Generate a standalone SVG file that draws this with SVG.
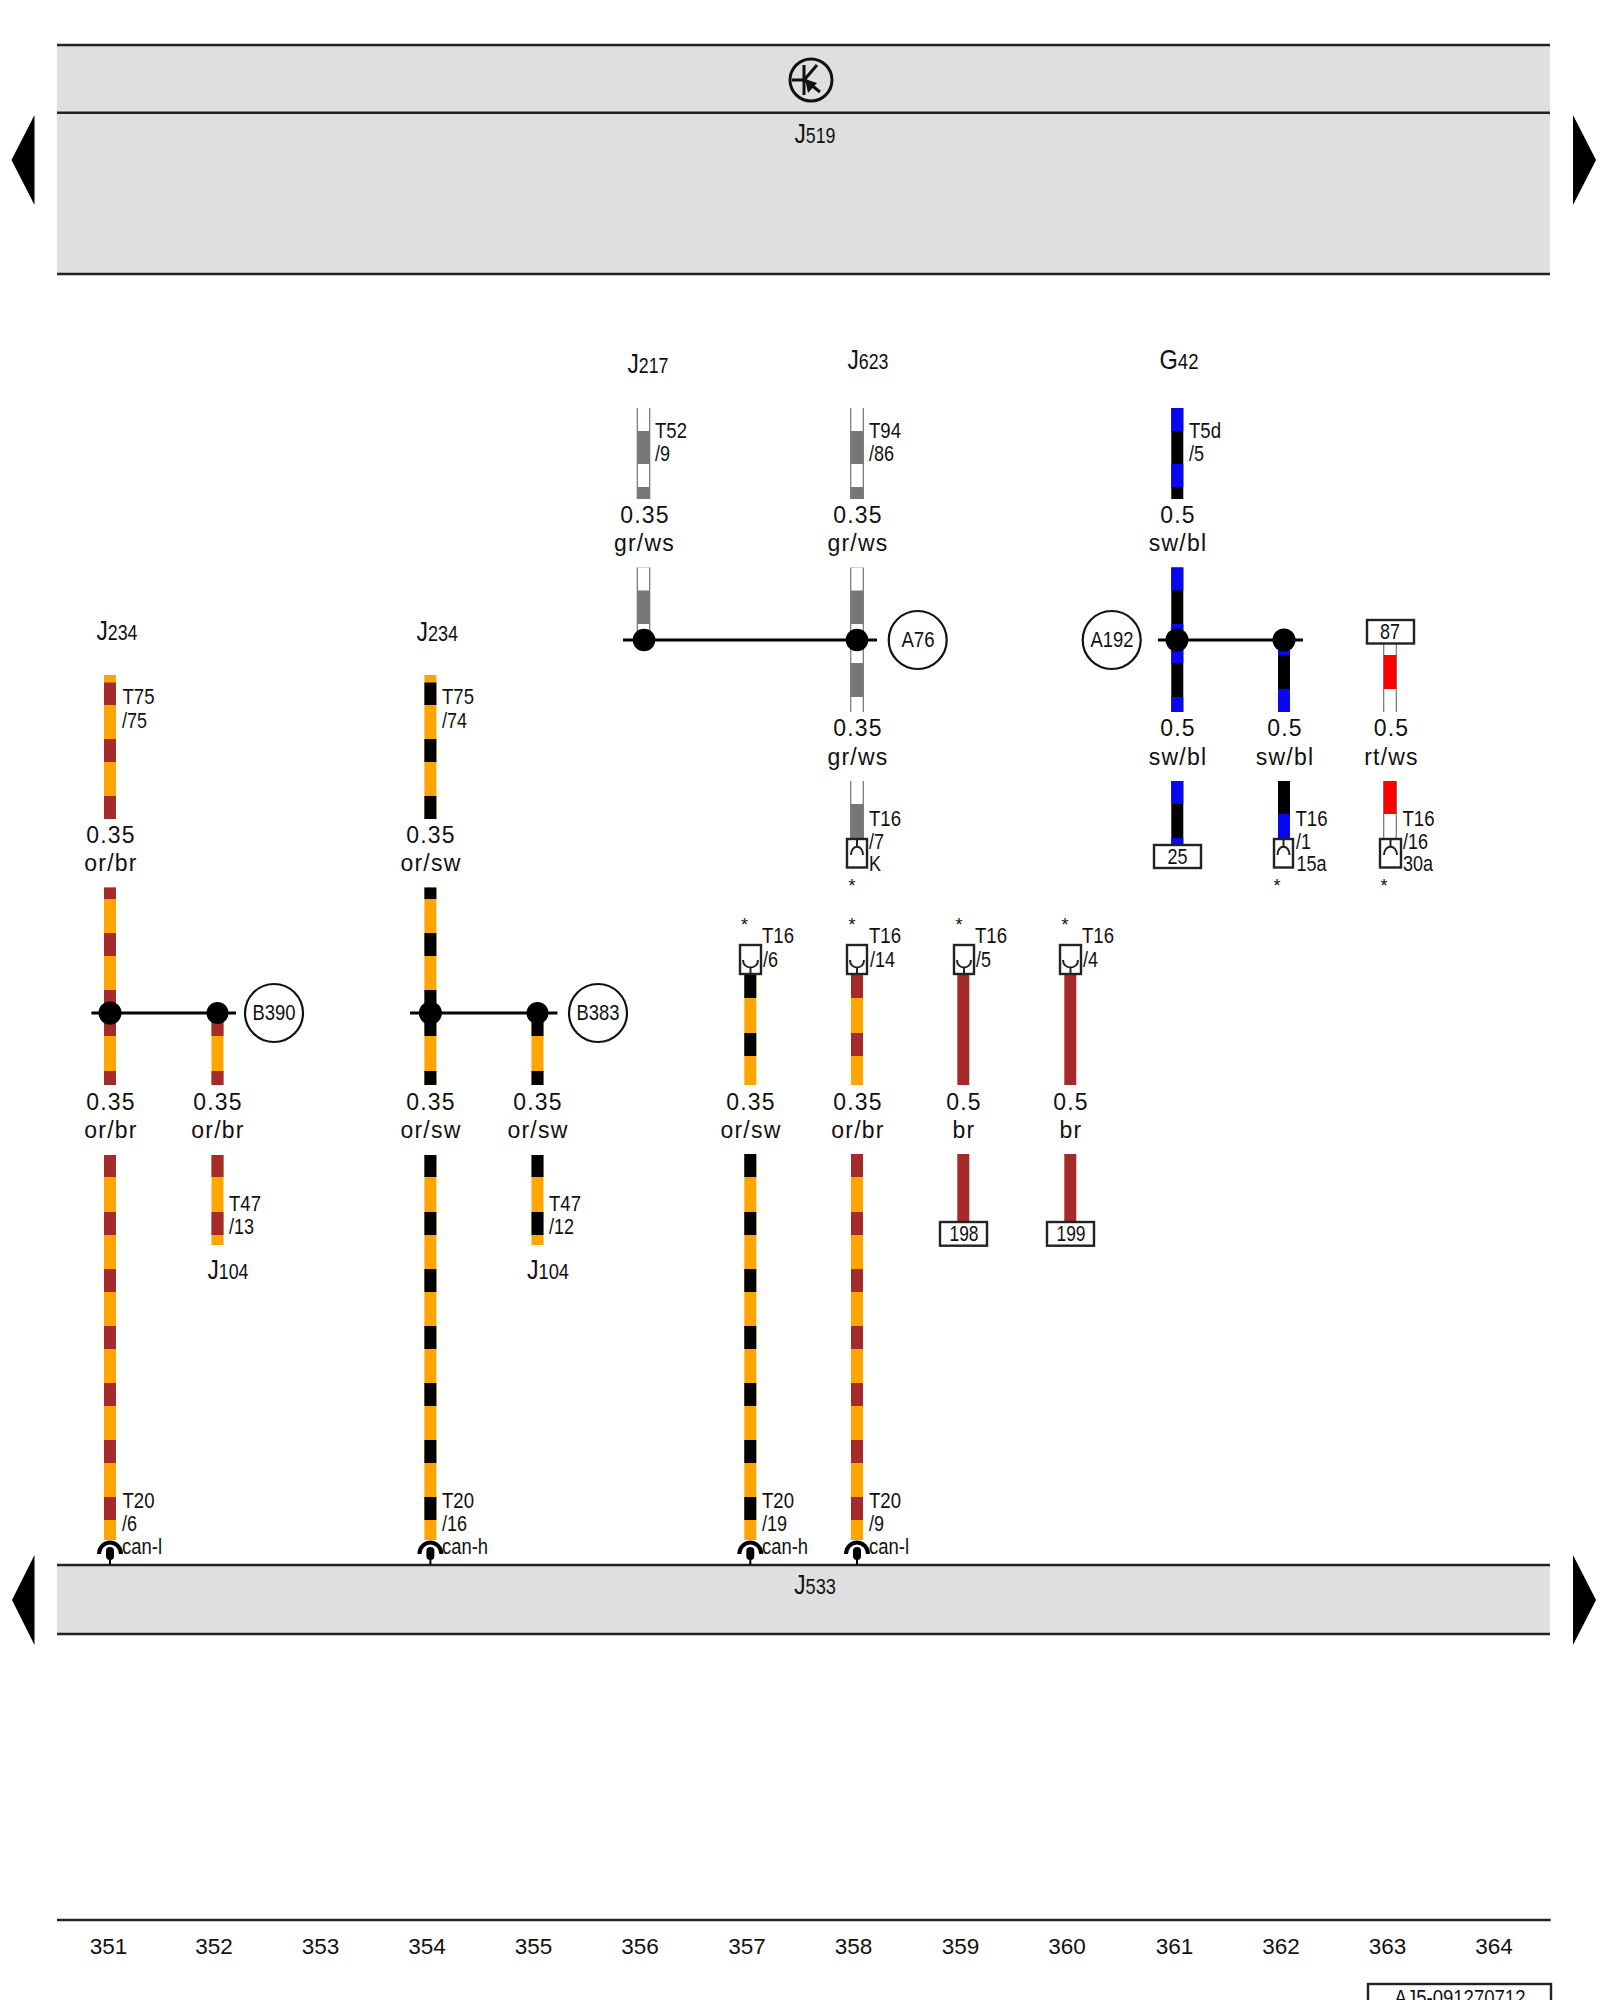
<svg xmlns="http://www.w3.org/2000/svg" width="1600" height="2000" viewBox="0 0 1600 2000">
<style>
text{font-family:"Liberation Sans",Arial,sans-serif;fill:#111}
.band{fill:#dfdfdf}
.rule{stroke:#222;stroke-width:2.5;fill:none}
.arrow{fill:#000}
.or,.brn,.blk,.blu,.red,.gry,.wht,.edge{fill:none}
.or{stroke:#ffa500;stroke-width:12}
.brn{stroke:#a52a2a;stroke-width:12}
.blk{stroke:#000;stroke-width:12}
.blu{stroke:#0808f0;stroke-width:12}
.red{stroke:#f00;stroke-width:12.5}
.gry{stroke:#777;stroke-width:12.5}
.edge{stroke:#555;stroke-width:13.5}
.wht{stroke:#fff;stroke-width:11.5}
.tie{stroke:#000;stroke-width:3;fill:none}
.dot{fill:#000}
.ring{fill:#fff;stroke:#111;stroke-width:2.2}
.box{fill:#fff;stroke:#222;stroke-width:2.4}
.pin{fill:none;stroke:#222;stroke-width:2}
.hook{fill:none;stroke:#000;stroke-width:4}
.t{font-size:22.5px}
.m{font-size:22.5px;text-anchor:middle}
.w{font-size:23px;text-anchor:middle;letter-spacing:1.2px}
.star{font-size:18px;text-anchor:middle}
.big{font-size:28px}
.sm{font-size:22px}
.n{font-size:22.5px;text-anchor:middle}
</style>

<g id="connectors">
<g id="wires-or-br">
<path class="or" d="M110 675V819M110 887.5V1085M110 1155V1540M217.5 1013V1085M217.5 1155V1245M857 975V1085M857 1154V1540"/>
<path class="brn" d="M110 682.5V705M110 739V762M110 796V819M110 887.5V899M110 933V956M110 990V1036M110 1071V1085M110 1155V1177M110 1212V1235M110 1269V1292M110 1326V1349M110 1383V1406M110 1440V1463M110 1497V1520"/>
<path class="brn" stroke-width="11" d="M217.5 1013V1036M217.5 1071V1085M217.5 1155V1177M217.5 1212V1235"/>
<path class="brn" d="M857 975V998M857 1033V1056M857 1154V1177M857 1212V1235M857 1269V1292M857 1326V1349M857 1383V1406M857 1440V1463M857 1497V1520"/>
<path class="brn" d="M963.3 975V1085M963.3 1154V1222M1070.3 975V1085M1070.3 1154V1222"/>
</g>
<g id="wires-or-sw">
<path class="or" d="M430.4 675V819M430.4 887.5V1085M430.4 1155V1540M537.5 1013V1085M537.5 1155V1245M750.3 975V1085M750.3 1154V1540"/>
<path class="blk" d="M430.4 682.5V705M430.4 739V762M430.4 796V819M430.4 887.5V899M430.4 933V956M430.4 990V1036M430.4 1071V1085M430.4 1155V1177M430.4 1212V1235M430.4 1269V1292M430.4 1326V1349M430.4 1383V1406M430.4 1440V1463M430.4 1497V1520"/>
<path class="blk" d="M537.5 1013V1036M537.5 1071V1085M537.5 1155V1177M537.5 1212V1235"/>
<path class="blk" d="M750.3 975V998M750.3 1033V1056M750.3 1154V1177M750.3 1212V1235M750.3 1269V1292M750.3 1326V1349M750.3 1383V1406M750.3 1440V1463M750.3 1497V1520"/>
</g>
<g id="wires-gr-ws">
<path class="edge" d="M643.5 408V499M643.5 567.5V640M857 408V499M857 567.5V712M857 781V839"/>
<path class="wht" d="M643.5 408V499M643.5 567.5V640M857 408V499M857 567.5V712M857 781V839"/>
<path class="gry" d="M643.5 431V464M643.5 487V499M643.5 590.5V624M857 431V464M857 487V499M857 590.5V624M857 663V697M857 804V839"/>
</g>
<g id="wires-sw-bl">
<path class="blk" d="M1177.3 408V499M1177.3 567.5V712M1177.3 781V845M1284 640V712M1284 781V839"/>
<path class="blu" d="M1177.3 408V431M1177.3 464V487M1177.3 567.5V590.5M1177.3 624V663M1177.3 697V712M1177.3 781V804M1177.3 838V845M1284 640V655M1284 689V712M1284 814V839"/>
</g>
<g id="wires-rt-ws">
<path class="edge" d="M1390 643V712M1390 781V839"/>
<path class="wht" d="M1390 643V712M1390 781V839"/>
<path class="red" d="M1390 655V689M1390 781V814"/>
</g>
<path class="tie" d="M91.4 1013H236M410 1013H557.5M623 640H877M1158 640H1303"/>
<g id="junctions">
<circle class="dot" cx="110" cy="1013" r="11.5"/><circle class="dot" cx="217.5" cy="1013" r="11"/>
<circle class="dot" cx="430.4" cy="1013" r="11.5"/><circle class="dot" cx="537.5" cy="1013" r="11"/>
<circle class="dot" cx="644" cy="640" r="11.3"/><circle class="dot" cx="857" cy="640" r="11.3"/>
<circle class="dot" cx="1177" cy="640" r="11.5"/><circle class="dot" cx="1284" cy="640" r="11.5"/>
</g>
</g>

<g id="J519">
<rect class="band" x="57" y="45" width="1493" height="229"/>
<path class="rule" d="M57 45H1550M57 112.7H1550M57 274H1550"/>
<polygon class="arrow" points="34.5,115 34.5,205 11.5,160"/>
<polygon class="arrow" points="1573,115 1573,205 1596,160"/>
<circle cx="811" cy="80" r="21" fill="none" stroke="#111" stroke-width="3"/>
<path d="M804 65V95M792 80H804M805 79L817 65M805 80L820 92" fill="none" stroke="#111" stroke-width="3"/>
<polygon points="805,79 817,83 808,93" fill="#111"/>
<text x="794.5" y="143" textLength="41" lengthAdjust="spacingAndGlyphs"><tspan class="big">J</tspan><tspan class="sm">519</tspan></text>
</g>

<g id="J533">
<rect class="band" x="57" y="1565" width="1493" height="69"/>
<path class="rule" d="M57 1565H1550M57 1634H1550"/>
<polygon class="arrow" points="34.5,1555 34.5,1645 12,1600"/>
<polygon class="arrow" points="1573,1555 1573,1645 1596,1600"/>
<text x="794" y="1594" textLength="42" lengthAdjust="spacingAndGlyphs"><tspan class="big">J</tspan><tspan class="sm">533</tspan></text>
</g>

<g id="wire-110">
<text x="96.5" y="640" textLength="41" lengthAdjust="spacingAndGlyphs"><tspan class="big">J</tspan><tspan class="sm">234</tspan></text>
<text class="t" x="122.5" y="704" textLength="32" lengthAdjust="spacingAndGlyphs">T75</text>
<text class="t" x="122" y="728" textLength="25" lengthAdjust="spacingAndGlyphs">/75</text>
<text class="w" x="111" y="843">0.35</text><text class="w" x="111" y="871.4">or/br</text>
<text class="w" x="111" y="1110">0.35</text><text class="w" x="111" y="1138">or/br</text>
<text class="t" x="122.5" y="1508" textLength="32" lengthAdjust="spacingAndGlyphs">T20</text>
<text class="t" x="122" y="1530.7" textLength="15" lengthAdjust="spacingAndGlyphs">/6</text>
<text class="t" x="122" y="1554" textLength="40" lengthAdjust="spacingAndGlyphs">can-l</text>
<path class="hook" d="M99 1554A11 11.5 0 0 1 121 1554"/>
<rect x="106" y="1547" width="8" height="13" rx="4" fill="#000"/><path d="M110 1558V1565" stroke="#000" stroke-width="2"/>
</g>
<g id="wire-217">
<circle class="ring" cx="274" cy="1013" r="29"/>
<text class="m" x="274" y="1020" textLength="43" lengthAdjust="spacingAndGlyphs">B390</text>
<text class="w" x="218" y="1110">0.35</text><text class="w" x="218" y="1138">or/br</text>
<text class="t" x="229" y="1211" textLength="32" lengthAdjust="spacingAndGlyphs">T47</text>
<text class="t" x="229" y="1234" textLength="25" lengthAdjust="spacingAndGlyphs">/13</text>
<text x="207.5" y="1279" textLength="41" lengthAdjust="spacingAndGlyphs"><tspan class="big">J</tspan><tspan class="sm">104</tspan></text>
</g>

<g id="wire-430">
<text x="416.5" y="641" textLength="41.5" lengthAdjust="spacingAndGlyphs"><tspan class="big">J</tspan><tspan class="sm">234</tspan></text>
<text class="t" x="442" y="704" textLength="32" lengthAdjust="spacingAndGlyphs">T75</text>
<text class="t" x="442" y="728" textLength="25" lengthAdjust="spacingAndGlyphs">/74</text>
<text class="w" x="431" y="843">0.35</text><text class="w" x="431" y="871.4">or/sw</text>
<text class="w" x="431" y="1110">0.35</text><text class="w" x="431" y="1138">or/sw</text>
<text class="t" x="442" y="1508" textLength="32" lengthAdjust="spacingAndGlyphs">T20</text>
<text class="t" x="442" y="1530.7" textLength="25" lengthAdjust="spacingAndGlyphs">/16</text>
<text class="t" x="442" y="1554" textLength="46" lengthAdjust="spacingAndGlyphs">can-h</text>
<path class="hook" d="M419.4 1554A11 11.5 0 0 1 441.4 1554"/>
<rect x="426.4" y="1547" width="8" height="13" rx="4" fill="#000"/><path d="M430.4 1558V1565" stroke="#000" stroke-width="2"/>
</g>
<g id="wire-537">
<circle class="ring" cx="598" cy="1013" r="29"/>
<text class="m" x="598" y="1020" textLength="43" lengthAdjust="spacingAndGlyphs">B383</text>
<text class="w" x="538" y="1110">0.35</text><text class="w" x="538" y="1138">or/sw</text>
<text class="t" x="549" y="1211" textLength="32" lengthAdjust="spacingAndGlyphs">T47</text>
<text class="t" x="549" y="1234" textLength="25" lengthAdjust="spacingAndGlyphs">/12</text>
<text x="527" y="1279" textLength="42" lengthAdjust="spacingAndGlyphs"><tspan class="big">J</tspan><tspan class="sm">104</tspan></text>
</g>

<g id="wire-644">
<text x="627.5" y="373" textLength="41" lengthAdjust="spacingAndGlyphs"><tspan class="big">J</tspan><tspan class="sm">217</tspan></text>
<text class="t" x="655" y="438" textLength="32" lengthAdjust="spacingAndGlyphs">T52</text>
<text class="t" x="655" y="461" textLength="15" lengthAdjust="spacingAndGlyphs">/9</text>
<text class="w" x="645" y="523">0.35</text><text class="w" x="644.5" y="551">gr/ws</text>
</g>

<g id="wire-857-upper">
<text x="847.5" y="369" textLength="41" lengthAdjust="spacingAndGlyphs"><tspan class="big">J</tspan><tspan class="sm">623</tspan></text>
<text class="t" x="869" y="438" textLength="32" lengthAdjust="spacingAndGlyphs">T94</text>
<text class="t" x="869" y="461" textLength="25" lengthAdjust="spacingAndGlyphs">/86</text>
<text class="w" x="858" y="523">0.35</text><text class="w" x="858" y="551">gr/ws</text>
<circle class="ring" cx="917.7" cy="640" r="29"/>
<text class="m" x="918" y="647" textLength="33" lengthAdjust="spacingAndGlyphs">A76</text>
<text class="w" x="858" y="736">0.35</text><text class="w" x="858" y="765">gr/ws</text>
<text class="t" x="869" y="826" textLength="32" lengthAdjust="spacingAndGlyphs">T16</text>
<text class="t" x="869" y="848.6" textLength="15" lengthAdjust="spacingAndGlyphs">/7</text>
<text class="t" x="869" y="871" textLength="12" lengthAdjust="spacingAndGlyphs">K</text>
<rect class="box" x="847" y="839" width="20" height="28.5"/>
<path class="pin" d="M857 839V846M851 855C851 844 863 844 863 855"/>
<text class="star" x="852" y="892">*</text>
</g>

<g id="wire-1177">
<text x="1159.5" y="369" textLength="39" lengthAdjust="spacingAndGlyphs"><tspan class="big">G</tspan><tspan class="sm">42</tspan></text>
<text class="t" x="1189" y="438" textLength="32" lengthAdjust="spacingAndGlyphs">T5d</text>
<text class="t" x="1189" y="461" textLength="15" lengthAdjust="spacingAndGlyphs">/5</text>
<text class="w" x="1178" y="523">0.5</text><text class="w" x="1178" y="551">sw/bl</text>
<circle class="ring" cx="1111.7" cy="640" r="29"/>
<text class="m" x="1112" y="647" textLength="43" lengthAdjust="spacingAndGlyphs">A192</text>
<text class="w" x="1178" y="736">0.5</text><text class="w" x="1178" y="765">sw/bl</text>
<rect class="box" x="1154" y="845" width="47" height="23"/>
<text class="m" x="1177.5" y="864" textLength="20" lengthAdjust="spacingAndGlyphs">25</text>
</g>

<g id="wire-1284">
<text class="w" x="1285" y="736">0.5</text><text class="w" x="1285" y="765">sw/bl</text>
<text class="t" x="1295.5" y="826" textLength="32" lengthAdjust="spacingAndGlyphs">T16</text>
<text class="t" x="1296" y="848.6" textLength="15" lengthAdjust="spacingAndGlyphs">/1</text>
<text class="t" x="1296.5" y="871" textLength="30" lengthAdjust="spacingAndGlyphs">15a</text>
<rect class="box" x="1274" y="839" width="19" height="28.5"/>
<path class="pin" d="M1283.5 839V846M1277.5 855C1277.5 844 1289.5 844 1289.5 855"/>
<text class="star" x="1277" y="892">*</text>
</g>

<g id="wire-1390">
<rect class="box" x="1367" y="620" width="47" height="23.5"/>
<text class="m" x="1390" y="639" textLength="20" lengthAdjust="spacingAndGlyphs">87</text>
<text class="w" x="1391.5" y="736">0.5</text><text class="w" x="1391.5" y="765">rt/ws</text>
<text class="t" x="1402.5" y="826" textLength="32" lengthAdjust="spacingAndGlyphs">T16</text>
<text class="t" x="1403" y="848.6" textLength="25" lengthAdjust="spacingAndGlyphs">/16</text>
<text class="t" x="1403" y="871" textLength="30" lengthAdjust="spacingAndGlyphs">30a</text>
<rect class="box" x="1380" y="839" width="21" height="28.5"/>
<path class="pin" d="M1390.5 839V846M1384 855C1384 844 1397 844 1397 855"/>
<text class="star" x="1384" y="892">*</text>
</g>

<g id="wire-750">
<text class="star" x="744.5" y="931">*</text>
<text class="t" x="762" y="943" textLength="32" lengthAdjust="spacingAndGlyphs">T16</text>
<text class="t" x="763" y="966.7" textLength="15" lengthAdjust="spacingAndGlyphs">/6</text>
<rect class="box" x="740" y="945" width="21" height="29"/>
<path class="pin" d="M743 960C743 970 758 970 758 960M750.5 967V974"/>
<text class="w" x="751" y="1110">0.35</text><text class="w" x="751" y="1138">or/sw</text>
<text class="t" x="762" y="1508" textLength="32" lengthAdjust="spacingAndGlyphs">T20</text>
<text class="t" x="762" y="1530.7" textLength="25" lengthAdjust="spacingAndGlyphs">/19</text>
<text class="t" x="762" y="1554" textLength="46" lengthAdjust="spacingAndGlyphs">can-h</text>
<path class="hook" d="M739.3 1554A11 11.5 0 0 1 761.3 1554"/>
<rect x="746.3" y="1547" width="8" height="13" rx="4" fill="#000"/><path d="M750.3 1558V1565" stroke="#000" stroke-width="2"/>
</g>

<g id="wire-857-lower">
<text class="star" x="852" y="931">*</text>
<text class="t" x="869" y="943" textLength="32" lengthAdjust="spacingAndGlyphs">T16</text>
<text class="t" x="870" y="966.7" textLength="25" lengthAdjust="spacingAndGlyphs">/14</text>
<rect class="box" x="847" y="945" width="20" height="29"/>
<path class="pin" d="M850 960C850 970 864 970 864 960M857 967V974"/>
<text class="w" x="858" y="1110">0.35</text><text class="w" x="858" y="1138">or/br</text>
<text class="t" x="869" y="1508" textLength="32" lengthAdjust="spacingAndGlyphs">T20</text>
<text class="t" x="869" y="1530.7" textLength="15" lengthAdjust="spacingAndGlyphs">/9</text>
<text class="t" x="869" y="1554" textLength="40" lengthAdjust="spacingAndGlyphs">can-l</text>
<path class="hook" d="M846 1554A11 11.5 0 0 1 868 1554"/>
<rect x="853" y="1547" width="8" height="13" rx="4" fill="#000"/><path d="M857 1558V1565" stroke="#000" stroke-width="2"/>
</g>

<g id="wire-963">
<text class="star" x="959" y="931">*</text>
<text class="t" x="975" y="943" textLength="32" lengthAdjust="spacingAndGlyphs">T16</text>
<text class="t" x="976" y="966.7" textLength="15" lengthAdjust="spacingAndGlyphs">/5</text>
<rect class="box" x="954" y="945" width="20" height="29"/>
<path class="pin" d="M957 960C957 970 971 970 971 960M964 967V974"/>
<text class="w" x="964" y="1110">0.5</text><text class="w" x="964" y="1138">br</text>
<rect class="box" x="940" y="1222" width="47" height="23.7"/>
<text class="m" x="964" y="1240.7" textLength="29" lengthAdjust="spacingAndGlyphs">198</text>
</g>

<g id="wire-1070">
<text class="star" x="1065" y="931">*</text>
<text class="t" x="1082" y="943" textLength="32" lengthAdjust="spacingAndGlyphs">T16</text>
<text class="t" x="1083" y="966.7" textLength="15" lengthAdjust="spacingAndGlyphs">/4</text>
<rect class="box" x="1060" y="945" width="21" height="29"/>
<path class="pin" d="M1063 960C1063 970 1078 970 1078 960M1070.5 967V974"/>
<text class="w" x="1071" y="1110">0.5</text><text class="w" x="1071" y="1138">br</text>
<rect class="box" x="1047" y="1222" width="47" height="23.7"/>
<text class="m" x="1071" y="1240.7" textLength="29" lengthAdjust="spacingAndGlyphs">199</text>
</g>

<g id="footer">
<path class="rule" d="M57 1920H1550.7"/>
<text class="n" x="108.5" y="1954">351</text>
<text class="n" x="214" y="1954">352</text>
<text class="n" x="320.5" y="1954">353</text>
<text class="n" x="427" y="1954">354</text>
<text class="n" x="533.5" y="1954">355</text>
<text class="n" x="640" y="1954">356</text>
<text class="n" x="747" y="1954">357</text>
<text class="n" x="853.5" y="1954">358</text>
<text class="n" x="960.5" y="1954">359</text>
<text class="n" x="1067" y="1954">360</text>
<text class="n" x="1174.5" y="1954">361</text>
<text class="n" x="1281" y="1954">362</text>
<text class="n" x="1387.5" y="1954">363</text>
<text class="n" x="1494" y="1954">364</text>
<rect x="1368" y="1984" width="183" height="30" fill="#fff" stroke="#222" stroke-width="2.4"/>
<text class="m" x="1460" y="2005" textLength="131" lengthAdjust="spacingAndGlyphs">AJ5-091270712</text>
</g>
</svg>
